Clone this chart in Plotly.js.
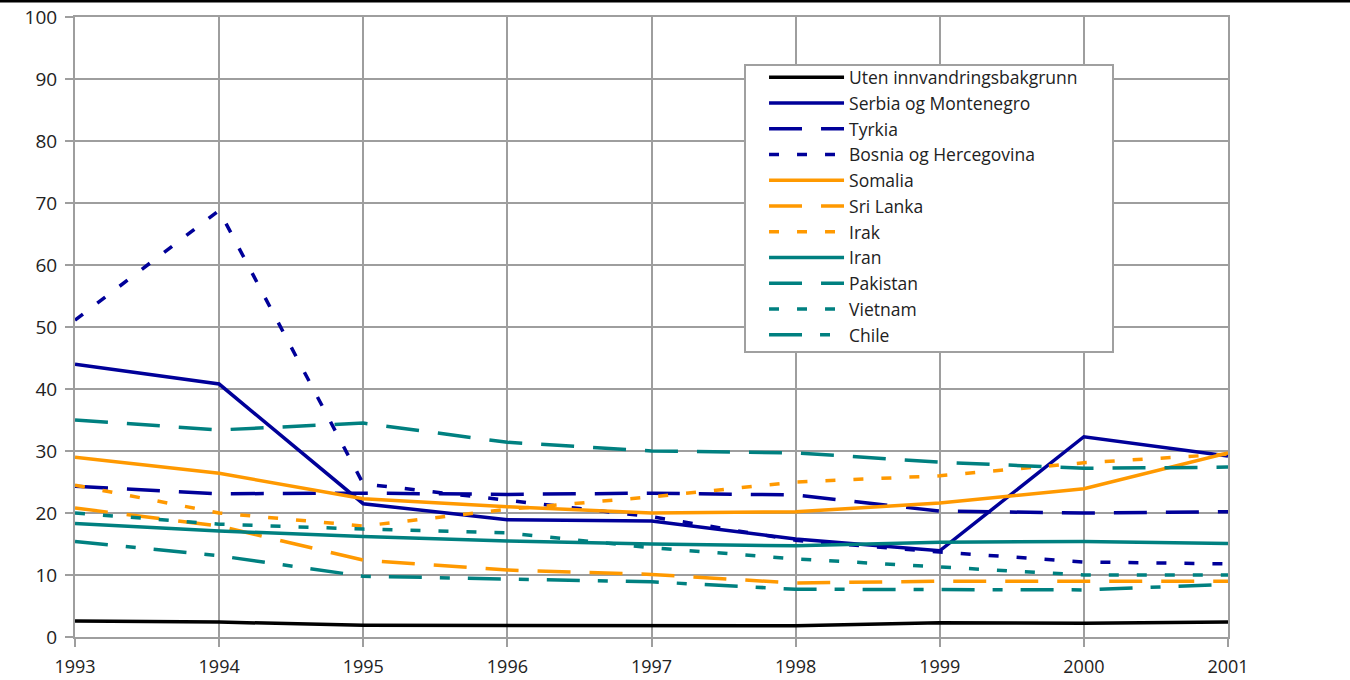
<!DOCTYPE html>
<html>
<head>
<meta charset="utf-8">
<script src="https://cdn.plot.ly/plotly-3.0.1.min.js"></script>
<style>html,body{margin:0;padding:0;background:#fff;}#chart{width:1350px;height:680px;}</style>
</head>
<body>
<div id="chart"></div>
<script>
const years = [1993, 1994, 1995, 1996, 1997, 1998, 1999, 2000, 2001];
const yTicks = [0, 10, 20, 30, 40, 50, 60, 70, 80, 90, 100];

const utenInnvandring = [2.6, 2.4, 1.9, 1.9, 1.9, 1.8, 2.3, 2.2, 2.4];
const serbia = [44.0, 40.8, 21.5, 18.9, 18.7, 15.8, 13.9, 32.3, 29.2];
const tyrkia = [24.3, 23.1, 23.2, 23.0, 23.2, 22.9, 20.3, 20.0, 20.2];
const bosnia = [51.1, 68.8, 24.7, 22.1, 19.4, 15.6, 13.7, 12.1, 11.8];
const somalia = [29.0, 26.4, 22.3, 21.0, 20.0, 20.2, 21.6, 23.9, 29.7];
const sriLanka = [20.8, 17.9, 12.4, 10.8, 10.1, 8.7, 9.0, 9.0, 9.0];
const irak = [24.5, 20.0, 17.9, 20.6, 22.6, 25.0, 26.0, 28.1, 29.5];
const iran = [18.3, 17.1, 16.2, 15.5, 15.0, 14.7, 15.3, 15.4, 15.1];
const pakistan = [35.0, 33.4, 34.5, 31.4, 30.0, 29.7, 28.2, 27.2, 27.4];
const vietnam = [20.0, 18.2, 17.4, 16.8, 14.4, 12.6, 11.3, 10.0, 10.0];
const chile = [15.4, 13.1, 9.8, 9.3, 8.9, 7.7, 7.7, 7.6, 8.5];

const NAVY = '#000099', ORANGE = '#FF9900', TEAL = '#008080', BLACK = '#000000';
const DASH = '33px,19px', DOT = '10px,18px', DASHDOT = '33px,18px,10px,18px';
const W = 3.5;

function tr(name, y, color, dash) {
  return {x: years, y: y, name: name, type: 'scatter', mode: 'lines',
          line: {color: color, width: W, dash: dash}};
}

const data = [
  tr('Uten innvandringsbakgrunn', utenInnvandring, BLACK, 'solid'),
  tr('Serbia og Montenegro', serbia, NAVY, 'solid'),
  tr('Tyrkia', tyrkia, NAVY, DASH),
  tr('Bosnia og Hercegovina', bosnia, NAVY, DOT),
  tr('Somalia', somalia, ORANGE, 'solid'),
  tr('Sri Lanka', sriLanka, ORANGE, DASH),
  tr('Irak', irak, ORANGE, DOT),
  tr('Iran', iran, TEAL, 'solid'),
  tr('Pakistan', pakistan, TEAL, DASH),
  tr('Vietnam', vietnam, TEAL, DOT),
  tr('Chile', chile, TEAL, DASHDOT)
];

const FONT = 'Open Sans, Noto Sans, DejaVu Sans, sans-serif';
const GRID = '#9e9e9e';
const TXT = '#222';

const layout = {
  width: 1350, height: 680,
  margin: {l: 75, r: 122, t: 17, b: 43, pad: 0},
  paper_bgcolor: '#ffffff', plot_bgcolor: '#ffffff',
  font: {family: FONT, size: 18, color: TXT},
  showlegend: true,
  legend: {
    x: 0.5976, y: 0.9316, xanchor: 'left', yanchor: 'top',
    bgcolor: 'rgba(0,0,0,0)', borderwidth: 0,
    font: {family: FONT, size: 17.5, color: TXT},
    tracegroupgap: 0, itemwidth: 75
  },
  xaxis: {
    range: [1993, 2001], tickvals: years, ticktext: years.map(String),
    showgrid: true, gridcolor: GRID, gridwidth: 2,
    showline: true, linecolor: GRID, linewidth: 2, mirror: true,
    ticks: 'outside', ticklen: 8, tickcolor: GRID, tickwidth: 2,
    ticklabelstandoff: 4,
    zeroline: false, tickfont: {family: FONT, size: 18, color: TXT}
  },
  yaxis: {
    range: [0, 100], tickvals: yTicks,
    showgrid: true, gridcolor: GRID, gridwidth: 2,
    showline: true, linecolor: GRID, linewidth: 2, mirror: true,
    ticks: 'outside', ticklen: 8, tickcolor: GRID, tickwidth: 2,
    ticklabelstandoff: 4,
    zeroline: false, tickfont: {family: FONT, size: 19, color: TXT}
  },
  shapes: [
    {
      type: 'line', xref: 'paper', yref: 'paper',
      x0: -75/1153, x1: 1275/1153, y0: (637 - 1)/620, y1: (637 - 1)/620,
      line: {color: '#000', width: 3}
    },
    {
      type: 'rect', xref: 'paper', yref: 'paper', layer: 'above',
      x0: (745 - 75)/1153, x1: (1113 - 75)/1153,
      y0: (637 - 352)/620, y1: (637 - 65)/620,
      fillcolor: '#ffffff', line: {color: '#a0a0a0', width: 2}
    }
  ]
};

Plotly.newPlot('chart', data, layout, {displayModeBar: false, staticPlot: true});
</script>
</body>
</html>
